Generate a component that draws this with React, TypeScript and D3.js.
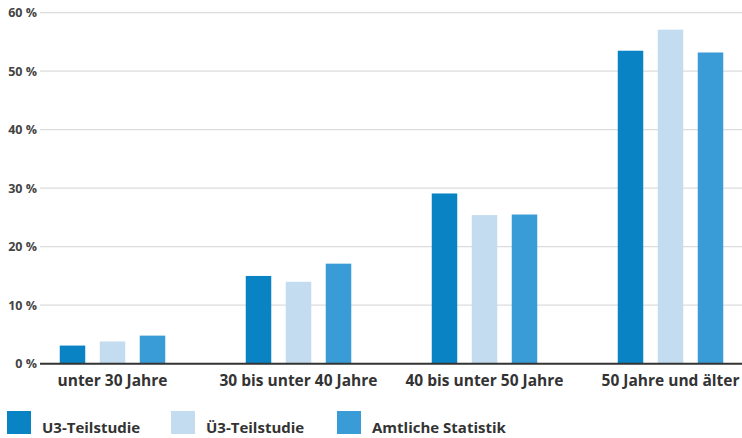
import React from "react";
import * as d3 from "d3";

const categories = ["unter 30 Jahre", "30 bis unter 40 Jahre", "40 bis unter 50 Jahre", "50 Jahre und älter"];
const seriesNames = ["U3-Teilstudie", "Ü3-Teilstudie", "Amtliche Statistik"];
const u3Values = [3.1, 15.0, 29.1, 53.5];
const ue3Values = [3.8, 14.0, 25.4, 57.1];
const amtlicheValues = [4.8, 17.1, 25.5, 53.2];
const yTicks = [0, 10, 20, 30, 40, 50, 60];
const colors = ["#0a83c4", "#c3dcef", "#3a9cd6"];

const W = 742;
const H = 438;
const FONT = "'Open Sans', 'DejaVu Sans', sans-serif";

export default function App() {
  const series = [u3Values, ue3Values, amtlicheValues];
  const y = d3.scaleLinear().domain([0, 60]).range([363.7, 12.7]);
  const x0 = d3.scaleBand<string>().domain(categories).range([19.5, 763.5]).padding(0);
  const x1 = d3
    .scaleBand<string>()
    .domain(seriesNames)
    .range([-52.75, 52.75])
    .paddingInner(0.3625)
    .paddingOuter(0);

  return (
    <svg width={W} height={H} style={{ position: "absolute", left: 0, top: 0, background: "#fff" }} fontFamily={FONT}>
      {yTicks.map((t) => (
        <g key={t}>
          {t !== 0 && <line x1={40} x2={W} y1={y(t)} y2={y(t)} stroke="#dcdcdc" strokeWidth={1.3} />}
          <text x={37} y={y(t)} dy="0.35em" textAnchor="end" fontSize={12.5} fontWeight={700} fill="#444">
            {t} %
          </text>
        </g>
      ))}
      {categories.map((c, i) => {
        const cx = x0(c)! + x0.bandwidth() / 2;
        return (
          <g key={c}>
            {series.map((vals, s) => (
              <rect
                key={s}
                x={cx + x1(seriesNames[s])!}
                y={y(vals[i])}
                width={x1.bandwidth()}
                height={y(0) - y(vals[i])}
                fill={colors[s]}
              />
            ))}
          </g>
        );
      })}
      <line x1={40} x2={W} y1={y(0)} y2={y(0)} stroke="#333" strokeWidth={2} />
      {categories.map((c) => (
        <text key={c} x={x0(c)! + x0.bandwidth() / 2} y={386} textAnchor="middle" fontSize={15.5} fontWeight={700} fill="#333">
          {c}
        </text>
      ))}
      {seriesNames.map((s, k) => {
        const lx = [7, 171, 337][k];
        return (
          <g key={s}>
            <rect x={lx} y={411} width={24} height={23} fill={colors[k]} />
            <text x={lx + 35} y={433} fontSize={15} fontWeight={700} fill="#333">
              {s}
            </text>
          </g>
        );
      })}
    </svg>
  );
}
